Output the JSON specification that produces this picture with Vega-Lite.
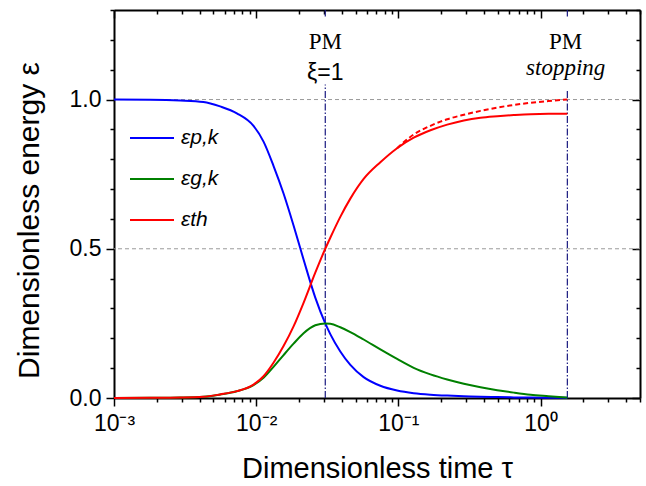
{
  "$schema": "https://vega.github.io/schema/vega-lite/v6.json",
  "width": 526,
  "height": 388,
  "autosize": {"type": "none"},
  "padding": {"left": 114, "top": 10, "right": 6, "bottom": 88},
  "background": "white",
  "config": {"view": {"stroke": null}, "font": "Liberation Sans"},
  "datasets": {
    "curves": [
      {"tau": 0.001, "value": 1.0, "series": "εp,k"},
      {"tau": 0.001793, "value": 0.9995, "series": "εp,k"},
      {"tau": 0.002916, "value": 0.997, "series": "εp,k"},
      {"tau": 0.004255, "value": 0.992, "series": "εp,k"},
      {"tau": 0.005578, "value": 0.977, "series": "εp,k"},
      {"tau": 0.007312, "value": 0.954, "series": "εp,k"},
      {"tau": 0.009572, "value": 0.912, "series": "εp,k"},
      {"tau": 0.01126, "value": 0.859, "series": "εp,k"},
      {"tau": 0.01323, "value": 0.778, "series": "εp,k"},
      {"tau": 0.01557, "value": 0.685, "series": "εp,k"},
      {"tau": 0.01831, "value": 0.578, "series": "εp,k"},
      {"tau": 0.02153, "value": 0.464, "series": "εp,k"},
      {"tau": 0.02603, "value": 0.3365, "series": "εp,k"},
      {"tau": 0.0306, "value": 0.25, "series": "εp,k"},
      {"tau": 0.03319, "value": 0.214, "series": "εp,k"},
      {"tau": 0.03903, "value": 0.156, "series": "εp,k"},
      {"tau": 0.04592, "value": 0.111, "series": "εp,k"},
      {"tau": 0.05696, "value": 0.07, "series": "εp,k"},
      {"tau": 0.07467, "value": 0.041, "series": "εp,k"},
      {"tau": 0.0979, "value": 0.025, "series": "εp,k"},
      {"tau": 0.1281, "value": 0.016, "series": "εp,k"},
      {"tau": 0.168, "value": 0.011, "series": "εp,k"},
      {"tau": 0.2203, "value": 0.008, "series": "εp,k"},
      {"tau": 0.2884, "value": 0.006, "series": "εp,k"},
      {"tau": 0.378, "value": 0.004, "series": "εp,k"},
      {"tau": 0.4956, "value": 0.003, "series": "εp,k"},
      {"tau": 0.6486, "value": 0.002, "series": "εp,k"},
      {"tau": 0.8503, "value": 0.0015, "series": "εp,k"},
      {"tau": 1.1384, "value": 0.001, "series": "εp,k"},
      {"tau": 1.542, "value": 0.0005, "series": "εp,k"},

      {"tau": 0.001, "value": 0.0, "series": "εg,k"},
      {"tau": 0.001793, "value": 0.0005, "series": "εg,k"},
      {"tau": 0.002916, "value": 0.0015, "series": "εg,k"},
      {"tau": 0.004255, "value": 0.004, "series": "εg,k"},
      {"tau": 0.005578, "value": 0.0118, "series": "εg,k"},
      {"tau": 0.007312, "value": 0.0224, "series": "εg,k"},
      {"tau": 0.009572, "value": 0.043, "series": "εg,k"},
      {"tau": 0.01126, "value": 0.0677, "series": "εg,k"},
      {"tau": 0.01323, "value": 0.104, "series": "εg,k"},
      {"tau": 0.01557, "value": 0.1437, "series": "εg,k"},
      {"tau": 0.01831, "value": 0.182, "series": "εg,k"},
      {"tau": 0.02153, "value": 0.217, "series": "εg,k"},
      {"tau": 0.02603, "value": 0.2436, "series": "εg,k"},
      {"tau": 0.0306, "value": 0.25, "series": "εg,k"},
      {"tau": 0.03319, "value": 0.249, "series": "εg,k"},
      {"tau": 0.03903, "value": 0.237, "series": "εg,k"},
      {"tau": 0.04592, "value": 0.221, "series": "εg,k"},
      {"tau": 0.05696, "value": 0.196, "series": "εg,k"},
      {"tau": 0.07467, "value": 0.163, "series": "εg,k"},
      {"tau": 0.0979, "value": 0.131, "series": "εg,k"},
      {"tau": 0.1281, "value": 0.101, "series": "εg,k"},
      {"tau": 0.168, "value": 0.079, "series": "εg,k"},
      {"tau": 0.2203, "value": 0.062, "series": "εg,k"},
      {"tau": 0.2884, "value": 0.048, "series": "εg,k"},
      {"tau": 0.378, "value": 0.036, "series": "εg,k"},
      {"tau": 0.4956, "value": 0.026, "series": "εg,k"},
      {"tau": 0.6486, "value": 0.018, "series": "εg,k"},
      {"tau": 0.8503, "value": 0.011, "series": "εg,k"},
      {"tau": 1.1384, "value": 0.006, "series": "εg,k"},
      {"tau": 1.542, "value": 0.001, "series": "εg,k"},

      {"tau": 0.001, "value": 0.0, "series": "εth"},
      {"tau": 0.001793, "value": 0.0005, "series": "εth"},
      {"tau": 0.002916, "value": 0.0015, "series": "εth"},
      {"tau": 0.004255, "value": 0.004, "series": "εth"},
      {"tau": 0.005578, "value": 0.012, "series": "εth"},
      {"tau": 0.007312, "value": 0.023, "series": "εth"},
      {"tau": 0.009572, "value": 0.045, "series": "εth"},
      {"tau": 0.01126, "value": 0.073, "series": "εth"},
      {"tau": 0.01323, "value": 0.118, "series": "εth"},
      {"tau": 0.01557, "value": 0.174, "series": "εth"},
      {"tau": 0.01831, "value": 0.24, "series": "εth"},
      {"tau": 0.02153, "value": 0.319, "series": "εth"},
      {"tau": 0.02603, "value": 0.42, "series": "εth"},
      {"tau": 0.0306, "value": 0.5, "series": "εth"},
      {"tau": 0.03319, "value": 0.537, "series": "εth"},
      {"tau": 0.03903, "value": 0.607, "series": "εth"},
      {"tau": 0.04592, "value": 0.668, "series": "εth"},
      {"tau": 0.05696, "value": 0.734, "series": "εth"},
      {"tau": 0.07467, "value": 0.79, "series": "εth"},
      {"tau": 0.0979, "value": 0.837, "series": "εth"},
      {"tau": 0.1281, "value": 0.872, "series": "εth"},
      {"tau": 0.168, "value": 0.897, "series": "εth"},
      {"tau": 0.2203, "value": 0.916, "series": "εth"},
      {"tau": 0.2884, "value": 0.93, "series": "εth"},
      {"tau": 0.378, "value": 0.939, "series": "εth"},
      {"tau": 0.4956, "value": 0.944, "series": "εth"},
      {"tau": 0.6486, "value": 0.948, "series": "εth"},
      {"tau": 0.8503, "value": 0.951, "series": "εth"},
      {"tau": 1.1384, "value": 0.952, "series": "εth"},
      {"tau": 1.542, "value": 0.952, "series": "εth"}
    ],
    "dashed": [
      {"tau": 0.0979, "value": 0.837},
      {"tau": 0.1281, "value": 0.883},
      {"tau": 0.168, "value": 0.912},
      {"tau": 0.2203, "value": 0.934},
      {"tau": 0.2884, "value": 0.949},
      {"tau": 0.378, "value": 0.962},
      {"tau": 0.4956, "value": 0.973},
      {"tau": 0.6486, "value": 0.982},
      {"tau": 0.8503, "value": 0.989},
      {"tau": 1.1384, "value": 0.995},
      {"tau": 1.542, "value": 1.0}
    ],
    "hgrid": [{"y": 0.5}, {"y": 1.0}],
    "vlines": [
      {"tau": 0.0306, "y0": 0, "y1": 1.05},
      {"tau": 0.0306, "y0": 1.278, "y1": 1.3},
      {"tau": 1.542, "y0": 0, "y1": 1.033},
      {"tau": 1.542, "y0": 1.278, "y1": 1.3}
    ],
    "annot": [
      {"tau": 0.0306, "y": 1.168, "label": "PM", "kind": "serif"},
      {"tau": 0.0306, "y": 1.067, "label": "ξ=1", "kind": "sans"},
      {"tau": 1.5, "y": 1.168, "label": "PM", "kind": "serif"},
      {"tau": 1.5, "y": 1.083, "label": "stopping", "kind": "italic"}
    ]
  },
  "resolve": {"axis": {"x": "independent", "y": "independent"}},
  "layer": [
    {
      "data": {"name": "hgrid"},
      "mark": {"type": "rule", "color": "#9a9a9a", "strokeDash": [4, 3], "strokeWidth": 1},
      "encoding": {
        "y": {
          "field": "y", "type": "quantitative",
          "scale": {"domain": [0, 1.3], "nice": false, "zero": false},
          "axis": {
            "orient": "right",
            "values": [0, 0.1, 0.2, 0.3, 0.4, 0.5, 0.6, 0.7, 0.8, 0.9, 1, 1.1, 1.2, 1.3],
            "labels": false, "title": null, "grid": false,
            "domainColor": "black", "domainWidth": 2,
            "tickColor": "black", "tickWidth": 1.5,
            "tickSize": {"condition": {"test": "abs(datum.value*2-round(datum.value*2))>0.001", "value": -4}, "value": -8}
          }
        }
      }
    },
    {
      "data": {"name": "vlines"},
      "mark": {"type": "rule", "color": "#1a1a80", "strokeDash": [7, 2, 1.5, 2], "strokeWidth": 1.2},
      "encoding": {
        "x": {
          "field": "tau", "type": "quantitative",
          "scale": {"type": "log", "domain": [0.001, 5], "nice": false},
          "axis": {
            "orient": "top",
            "values": [0.001, 0.002, 0.003, 0.004, 0.005, 0.006, 0.007, 0.008, 0.009, 0.01, 0.02, 0.03, 0.04, 0.05, 0.06, 0.07, 0.08, 0.09, 0.1, 0.2, 0.3, 0.4, 0.5, 0.6, 0.7, 0.8, 0.9, 1, 2, 3, 4, 5],
            "labels": false, "title": null, "grid": false,
            "domainColor": "black", "domainWidth": 2,
            "tickColor": "black", "tickWidth": 1.5,
            "tickSize": {"condition": {"test": "indexof([0.001,0.01,0.1,1], datum.value) < 0", "value": -4}, "value": -8}
          }
        },
        "y": {"field": "y0", "type": "quantitative", "scale": {"domain": [0, 1.3], "nice": false, "zero": false}, "axis": null},
        "y2": {"field": "y1"}
      }
    },
    {
      "data": {"name": "curves"},
      "mark": {"type": "line", "strokeWidth": 2, "interpolate": "monotone"},
      "encoding": {
        "x": {
          "field": "tau", "type": "quantitative",
          "scale": {"type": "log", "domain": [0.001, 5], "nice": false},
          "axis": {
            "orient": "bottom",
            "values": [0.001, 0.002, 0.003, 0.004, 0.005, 0.006, 0.007, 0.008, 0.009, 0.01, 0.02, 0.03, 0.04, 0.05, 0.06, 0.07, 0.08, 0.09, 0.1, 0.2, 0.3, 0.4, 0.5, 0.6, 0.7, 0.8, 0.9, 1, 2, 3, 4, 5],
            "labelExpr": "datum.value==0.001?'10⁻³':datum.value==0.01?'10⁻²':datum.value==0.1?'10⁻¹':datum.value==1?'10⁰':''",
            "labelFont": "Liberation Sans", "labelFontSize": 23, "labelColor": "black",
            "labelPadding": 6, "labelOverlap": false, "labelFlush": false,
            "title": "Dimensionless time τ",
            "titleFont": "Liberation Sans", "titleFontSize": 29, "titleFontWeight": "normal", "titleColor": "black",
            "titlePadding": 19,
            "grid": false,
            "domainColor": "black", "domainWidth": 2,
            "tickColor": "black", "tickWidth": 1.5,
            "tickSize": {"condition": {"test": "indexof([0.001,0.01,0.1,1], datum.value) < 0", "value": 4}, "value": 8}
          }
        },
        "y": {
          "field": "value", "type": "quantitative",
          "scale": {"domain": [0, 1.3], "nice": false, "zero": false},
          "axis": {
            "orient": "left",
            "values": [0, 0.1, 0.2, 0.3, 0.4, 0.5, 0.6, 0.7, 0.8, 0.9, 1, 1.1, 1.2, 1.3],
            "labelExpr": "abs(datum.value*2-round(datum.value*2))<0.001 ? format(datum.value,'.1f') : ''",
            "labelFont": "Liberation Sans", "labelFontSize": 23, "labelColor": "black",
            "labelPadding": 5, "labelOverlap": false, "labelFlush": false,
            "title": "Dimensionless energy ε",
            "titleFont": "Liberation Sans", "titleFontSize": 30, "titleFontWeight": "normal", "titleColor": "black",
            "titlePadding": 25,
            "titleY": 210,
            "grid": false,
            "domainColor": "black", "domainWidth": 2,
            "tickColor": "black", "tickWidth": 1.5,
            "tickSize": {"condition": {"test": "abs(datum.value*2-round(datum.value*2))>0.001", "value": 4}, "value": 8}
          }
        },
        "color": {
          "field": "series", "type": "nominal",
          "scale": {"domain": ["εp,k", "εg,k", "εth"], "range": ["#0000ff", "#008000", "#ff0000"]},
          "legend": {
            "orient": "none", "legendX": 15, "legendY": 105, "title": null,
            "symbolType": "stroke", "symbolSize": 1936, "symbolStrokeWidth": 2,
            "labelFont": "Liberation Sans", "labelFontSize": 21, "labelFontStyle": "italic", "labelColor": "black",
            "labelOffset": 6, "rowPadding": 8, "padding": 0
          }
        },
        "order": {"field": "tau", "type": "quantitative"}
      }
    },
    {
      "data": {"name": "dashed"},
      "mark": {"type": "line", "strokeWidth": 2, "color": "#ff0000", "strokeDash": [5, 3], "interpolate": "monotone"},
      "encoding": {
        "x": {"field": "tau", "type": "quantitative", "scale": {"type": "log", "domain": [0.001, 5], "nice": false}, "axis": null},
        "y": {"field": "value", "type": "quantitative", "scale": {"domain": [0, 1.3], "nice": false, "zero": false}, "axis": null}
      }
    },
    {
      "data": {"name": "annot"},
      "transform": [{"filter": "datum.kind == 'serif'"}],
      "mark": {"type": "text", "font": "Liberation Serif", "fontSize": 23, "baseline": "alphabetic", "align": "center", "color": "black"},
      "encoding": {
        "x": {"field": "tau", "type": "quantitative", "scale": {"type": "log", "domain": [0.001, 5], "nice": false}, "axis": null},
        "y": {"field": "y", "type": "quantitative", "scale": {"domain": [0, 1.3], "nice": false, "zero": false}, "axis": null},
        "text": {"field": "label"}
      }
    },
    {
      "data": {"name": "annot"},
      "transform": [{"filter": "datum.kind == 'sans'"}],
      "mark": {"type": "text", "font": "Liberation Sans", "fontSize": 23, "baseline": "alphabetic", "align": "center", "color": "black"},
      "encoding": {
        "x": {"field": "tau", "type": "quantitative", "scale": {"type": "log", "domain": [0.001, 5], "nice": false}, "axis": null},
        "y": {"field": "y", "type": "quantitative", "scale": {"domain": [0, 1.3], "nice": false, "zero": false}, "axis": null},
        "text": {"field": "label"}
      }
    },
    {
      "data": {"name": "annot"},
      "transform": [{"filter": "datum.kind == 'italic'"}],
      "mark": {"type": "text", "font": "Liberation Serif", "fontSize": 23, "fontStyle": "italic", "baseline": "alphabetic", "align": "center", "color": "black"},
      "encoding": {
        "x": {"field": "tau", "type": "quantitative", "scale": {"type": "log", "domain": [0.001, 5], "nice": false}, "axis": null},
        "y": {"field": "y", "type": "quantitative", "scale": {"domain": [0, 1.3], "nice": false, "zero": false}, "axis": null},
        "text": {"field": "label"}
      }
    }
  ]
}
